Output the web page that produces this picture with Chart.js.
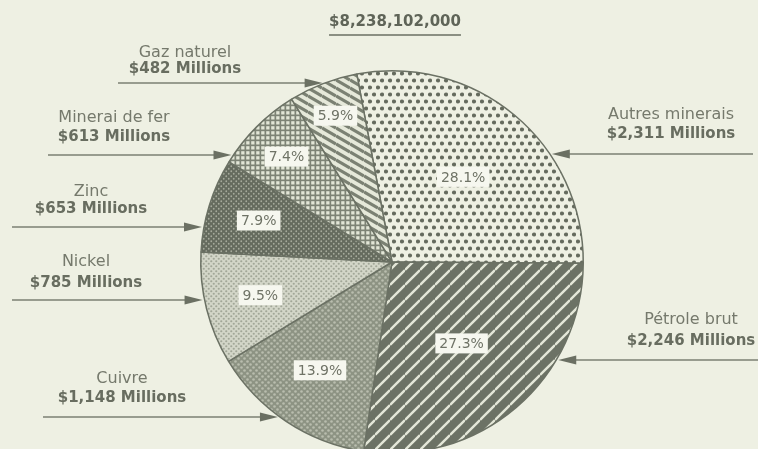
<!DOCTYPE html>
<html>
<head>
<meta charset="utf-8">
<script src="https://cdn.jsdelivr.net/npm/chart.js@4"></script>
<style>
  html, body { margin: 0; padding: 0; background: #eef0e3; overflow: hidden; }
  #wrap { width: 758px; height: 460px; position: relative; }
</style>
</head>
<body>
<div id="wrap"><canvas id="chart"></canvas></div>
<script>
// data (millions of dollars), clockwise from the top
const categories = ['Autres minerais', 'Pétrole brut', 'Cuivre', 'Nickel', 'Zinc', 'Minerai de fer', 'Gaz naturel'];
const values = [2311, 2246, 1148, 785, 653, 613, 482];
const totalLabel = '$8,238,102,000';

// where the name labels and arrows sit (layout only)
const callouts = [
  { x: 671, y1: 115, y2: 134, arrowY: 154, from: 753, side: 'right' },
  { x: 691, y1: 320, y2: 341, arrowY: 360, from: 758, side: 'right' },
  { x: 122, y1: 379, y2: 398, arrowY: 417, from: 43,  side: 'left' },
  { x: 86,  y1: 262, y2: 283, arrowY: 300, from: 12,  side: 'left' },
  { x: 91,  y1: 192, y2: 209, arrowY: 227, from: 12,  side: 'left' },
  { x: 114, y1: 118, y2: 137, arrowY: 155, from: 48,  side: 'left' },
  { x: 185, y1: 53,  y2: 69,  arrowY: 83,  from: 118, side: 'left' }
];
// distance of each percentage box from the centre, as part of the radius
const pctRadius = [0.58, 0.56, 0.68, 0.71, 0.73, 0.78, 0.82];

const light = '#eef0e3';

function makePattern(w, h, draw) {
  const c = document.createElement('canvas');
  c.width = w; c.height = h;
  const g = c.getContext('2d');
  draw(g, w, h);
  return g.createPattern(c, 'repeat');
}

function dots(bg, fg, r, w, h) {
  return makePattern(w, h, (g) => {
    g.fillStyle = bg; g.fillRect(0, 0, w, h);
    g.fillStyle = fg;
    [[w / 4, h / 4], [w * 3 / 4, h * 3 / 4]].forEach(([x, y]) => {
      g.beginPath(); g.arc(x, y, r, 0, Math.PI * 2); g.fill();
    });
  });
}

function stripes(bg, fg, lw, w, h, rising) {
  return makePattern(w, h, (g) => {
    g.fillStyle = bg; g.fillRect(0, 0, w, h);
    g.strokeStyle = fg; g.lineWidth = lw;
    for (let k = -1; k <= 1; k++) {
      g.beginPath();
      if (rising) { g.moveTo(0, h + k * h); g.lineTo(w, k * h); }
      else { g.moveTo(0, k * h); g.lineTo(w, h + k * h); }
      g.stroke();
    }
  });
}

const grid = makePattern(5, 5, (g) => {
  g.fillStyle = '#7d8375'; g.fillRect(0, 0, 5, 5);
  g.fillStyle = '#e2e5d6'; g.fillRect(1.2, 1.2, 3.3, 3.3);
});

const fills = [
  dots(light, '#656b5e', 2.1, 8, 14),
  stripes('#6c7265', '#e4e7d8', 2.4, 15, 15, true),
  dots('#8d9383', '#b9bdae', 1.3, 6, 6),
  dots('#d3d6c8', '#a2a798', 1.1, 5, 5),
  dots('#656b5e', '#a6ab9c', 0.9, 5, 5),
  grid,
  stripes('#e6e9da', '#7b8173', 3.2, 14, 8, false)
];

const calloutPlugin = {
  id: 'callouts',
  afterDatasetsDraw(chart) {
    const ctx = chart.ctx;
    const meta = chart.getDatasetMeta(0);
    const total = values.reduce((a, b) => a + b, 0);
    ctx.save();
    ctx.font = '14px "DejaVu Sans"';
    ctx.textAlign = 'center';
    ctx.textBaseline = 'middle';
    meta.data.forEach((arc, i) => {
      const mid = (arc.startAngle + arc.endAngle) / 2;
      const r = arc.outerRadius * pctRadius[i];
      const x = arc.x + Math.cos(mid) * r;
      const y = arc.y + Math.sin(mid) * r;
      const txt = (values[i] / total * 100).toFixed(1) + '%';
      const w = ctx.measureText(txt).width + 8;
      ctx.fillStyle = '#f6f7ef';
      ctx.fillRect(x - w / 2, y - 10, w, 20);
      ctx.fillStyle = '#6f7366';
      ctx.fillText(txt, x, y + 1);
    });
    ctx.restore();
  },
  afterDraw(chart) {
    const ctx = chart.ctx;
    const arc0 = chart.getDatasetMeta(0).data[0];
    const cx = arc0.x, cy = arc0.y, R = arc0.outerRadius;
    ctx.save();
    ctx.textAlign = 'center';
    ctx.textBaseline = 'middle';

    // title, underlined
    ctx.font = 'bold 15px "DejaVu Sans"';
    ctx.fillStyle = '#5f6458';
    ctx.fillText(totalLabel, 395, 22);
    const tw = ctx.measureText(totalLabel).width;
    ctx.strokeStyle = '#6a6f63';
    ctx.lineWidth = 1.6;
    ctx.beginPath(); ctx.moveTo(395 - tw / 2, 35); ctx.lineTo(395 + tw / 2, 35); ctx.stroke();

    callouts.forEach((c, i) => {
      ctx.font = '16px "DejaVu Sans"';
      ctx.fillStyle = '#75796c';
      ctx.fillText(categories[i], c.x, c.y1);
      ctx.font = 'bold 15px "DejaVu Sans"';
      ctx.fillStyle = '#686d60';
      ctx.fillText('$' + values[i].toLocaleString('en-US') + ' Millions', c.x, c.y2);

      // arrow to the rim of the pie
      const dy = c.arrowY - cy;
      const dx = Math.sqrt(Math.max(R * R - dy * dy, 0));
      const dir = c.side === 'left' ? 1 : -1;
      const tip = c.side === 'left' ? cx - dx - 2 : cx + dx + 2;
      ctx.strokeStyle = '#7b8073';
      ctx.lineWidth = 1.3;
      ctx.beginPath(); ctx.moveTo(c.from, c.arrowY); ctx.lineTo(tip - dir * 6, c.arrowY); ctx.stroke();
      ctx.fillStyle = '#6b7063';
      ctx.beginPath();
      ctx.moveTo(tip, c.arrowY);
      ctx.lineTo(tip - dir * 18, c.arrowY - 4.5);
      ctx.lineTo(tip - dir * 18, c.arrowY + 4.5);
      ctx.closePath(); ctx.fill();
    });
    ctx.restore();
  }
};

new Chart(document.getElementById('chart'), {
  type: 'pie',
  data: {
    labels: categories,
    datasets: [{
      data: values,
      backgroundColor: fills,
      borderColor: '#6b7164',
      borderWidth: 1.5
    }]
  },
  options: {
    responsive: true,
    maintainAspectRatio: false,
    animation: false,
    events: [],
    rotation: -10.6,
    layout: { padding: { left: 200, right: 174, top: 70, bottom: 6 } },
    plugins: {
      legend: { display: false },
      tooltip: { enabled: false },
      title: { display: false }
    }
  },
  plugins: [calloutPlugin]
});
</script>
</body>
</html>
